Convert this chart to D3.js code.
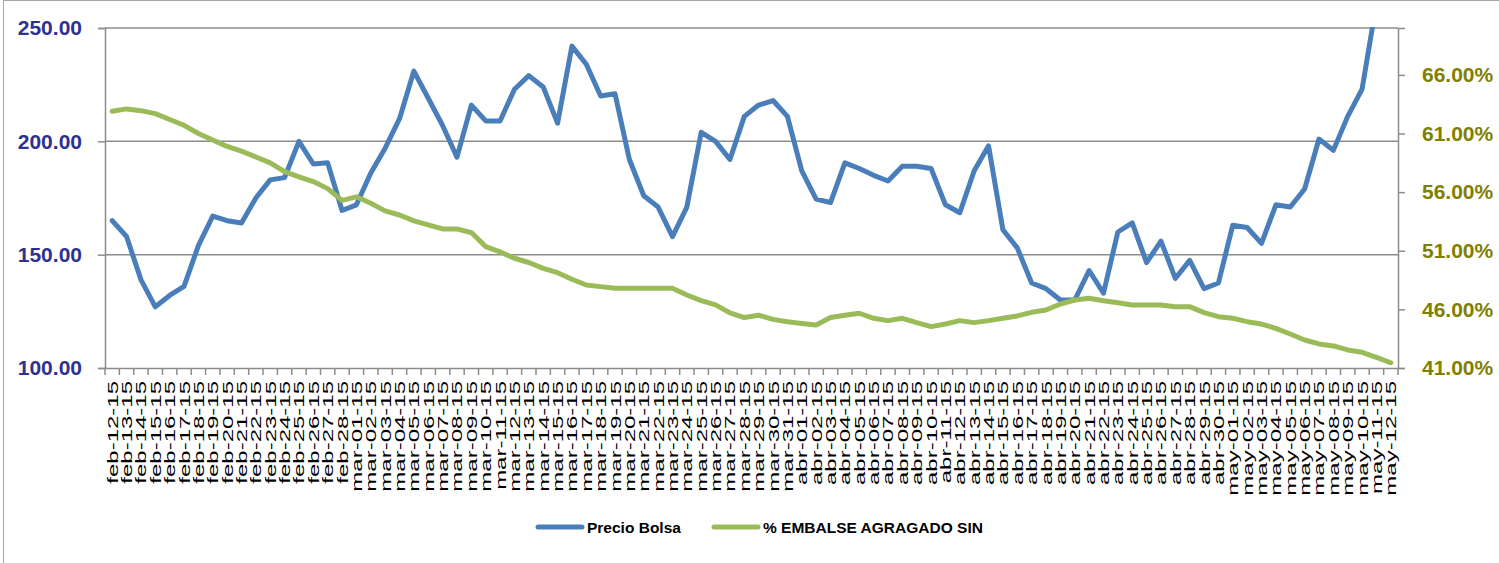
<!DOCTYPE html>
<html>
<head>
<meta charset="utf-8">
<script src="https://cdn.jsdelivr.net/npm/d3@7"></script>
<style>
  body { margin: 0; background: #fff; }
  svg { display: block; font-family: 'Liberation Sans', Arial, sans-serif; }
</style>
</head>
<body>
<svg id="chart" width="1499" height="563"></svg>
<script>
'use strict';

const dates = [
  'feb-12-15', 'feb-13-15', 'feb-14-15', 'feb-15-15', 'feb-16-15', 'feb-17-15',
  'feb-18-15', 'feb-19-15', 'feb-20-15', 'feb-21-15', 'feb-22-15', 'feb-23-15',
  'feb-24-15', 'feb-25-15', 'feb-26-15', 'feb-27-15', 'feb-28-15',
  'mar-01-15', 'mar-02-15', 'mar-03-15', 'mar-04-15', 'mar-05-15', 'mar-06-15',
  'mar-07-15', 'mar-08-15', 'mar-09-15', 'mar-10-15', 'mar-11-15', 'mar-12-15',
  'mar-13-15', 'mar-14-15', 'mar-15-15', 'mar-16-15', 'mar-17-15', 'mar-18-15',
  'mar-19-15', 'mar-20-15', 'mar-21-15', 'mar-22-15', 'mar-23-15', 'mar-24-15',
  'mar-25-15', 'mar-26-15', 'mar-27-15', 'mar-28-15', 'mar-29-15', 'mar-30-15',
  'mar-31-15',
  'abr-01-15', 'abr-02-15', 'abr-03-15', 'abr-04-15', 'abr-05-15', 'abr-06-15',
  'abr-07-15', 'abr-08-15', 'abr-09-15', 'abr-10-15', 'abr-11-15', 'abr-12-15',
  'abr-13-15', 'abr-14-15', 'abr-15-15', 'abr-16-15', 'abr-17-15', 'abr-18-15',
  'abr-19-15', 'abr-20-15', 'abr-21-15', 'abr-22-15', 'abr-23-15', 'abr-24-15',
  'abr-25-15', 'abr-26-15', 'abr-27-15', 'abr-28-15', 'abr-29-15', 'abr-30-15',
  'may-01-15', 'may-02-15', 'may-03-15', 'may-04-15', 'may-05-15', 'may-06-15',
  'may-07-15', 'may-08-15', 'may-09-15', 'may-10-15', 'may-11-15', 'may-12-15',
];

// Precio Bolsa (left axis)
const precio = [
  165, 158, 139, 127, 132, 136, 154, 167, 165, 164, 175, 183, 184, 200, 190, 190.5, 169.5,
  172, 186, 197, 210, 231, 219, 207, 193, 216, 209, 209, 223, 229, 224, 208, 242,
  234, 220, 221, 192, 176, 171, 158, 171, 204, 200, 192, 211, 216, 218, 211,
  187, 174.5, 173, 190.5, 188, 185, 182.5, 189, 189, 188, 172, 168.5, 187, 198,
  161, 153, 137.5, 135, 130, 130, 143, 133, 160, 164, 146.5, 156, 139.5, 147.5,
  135, 137.5,
  163, 162, 155, 172, 171, 179, 201, 196, 211, 223, 261, null,
];

// % EMBALSE AGRAGADO SIN (right axis)
const embalse = [
  62.9, 63.1, 62.95, 62.7, 62.2, 61.7, 61.0, 60.45, 59.9, 59.5, 59.0, 58.5, 57.75, 57.3,
  56.9, 56.3, 55.3,
  55.6, 55.05, 54.4, 54.05, 53.55, 53.2, 52.86, 52.86, 52.55, 51.35, 50.9, 50.36, 50.0,
  49.5, 49.13, 48.57, 48.08, 47.94, 47.8, 47.8, 47.8, 47.8, 47.8, 47.23, 46.75, 46.38,
  45.7, 45.3, 45.5, 45.15,
  44.95, 44.8, 44.67, 45.3, 45.5, 45.67, 45.24, 45.04, 45.24, 44.87, 44.53, 44.75, 45.04,
  44.87, 45.04, 45.24, 45.44, 45.75, 45.95, 46.46, 46.8, 46.95, 46.74, 46.57, 46.38,
  46.38, 46.38, 46.23, 46.23, 45.72, 45.38,
  45.24, 44.95, 44.75, 44.38, 43.9, 43.39, 43.05, 42.88, 42.54, 42.34, 41.91, 41.45,
];

const leftTicks = [100, 150, 200, 250];
const rightTicks = [41, 46, 51, 56, 61, 66];
const seriesNames = ['Precio Bolsa', '% EMBALSE AGRAGADO SIN'];

const colors = { blue: '#4a7ebb', green: '#9bbb59', grid: '#8c8c8c' };

const plot = { left: 105, right: 1398, top: 28, bottom: 368 };

const svg = d3.select('#chart');

// outer frame of the chart object
svg.append('path')
  .attr('d', 'M3.5,563 V0.5 H1499')
  .attr('fill', 'none')
  .attr('stroke', '#a6a6a6')
  .attr('stroke-width', 1);

const x = d3.scaleBand()
  .domain(dates)
  .range([plot.left, plot.right])
  .paddingInner(0)
  .paddingOuter(0);

const yLeft = d3.scaleLinear().domain([100, 250]).range([plot.bottom, plot.top]);
const yRight = d3.scaleLinear().domain([41, 70]).range([plot.bottom, plot.top]);

const cx = d => x(d) + x.bandwidth() / 2;

// horizontal gridlines
svg.append('g')
  .selectAll('line')
  .data(leftTicks.slice(1))
  .enter()
  .append('line')
  .attr('x1', plot.left)
  .attr('x2', plot.right)
  .attr('y1', d => yLeft(d))
  .attr('y2', d => yLeft(d))
  .attr('stroke', colors.grid)
  .attr('stroke-width', 1.5);

// left axis
const leftAxis = svg.append('g')
  .attr('transform', `translate(${plot.left},0)`)
  .call(d3.axisLeft(yLeft).tickValues(leftTicks).tickSize(7).tickPadding(16).tickFormat(d3.format('.2f')));

leftAxis.selectAll('text')
  .attr('fill', '#2e3192')
  .style('font-size', '21px')
  .style('font-weight', 'bold');

// right axis
const rightAxis = svg.append('g')
  .attr('transform', `translate(${plot.right},0)`)
  .call(d3.axisRight(yRight).tickValues(rightTicks).tickSize(7).tickPadding(17).tickFormat(d => d3.format('.2f')(d) + '%'));

rightAxis.selectAll('text')
  .attr('fill', '#808000')
  .style('font-size', '21px')
  .style('font-weight', 'bold');

// bottom axis: ticks between categories
const bottom = svg.append('g')
  .attr('transform', `translate(0,${plot.bottom})`)
  .call(d3.axisBottom(x).tickSize(0).tickFormat(''));

bottom.append('g')
  .selectAll('line')
  .data(d3.range(dates.length + 1))
  .enter()
  .append('line')
  .attr('x1', i => plot.left + i * x.step())
  .attr('x2', i => plot.left + i * x.step())
  .attr('y1', 0)
  .attr('y2', 7);

[leftAxis, rightAxis, bottom].forEach(g => {
  g.select('.domain').attr('stroke', colors.grid).attr('stroke-width', 1.5);
  g.selectAll('line').attr('stroke', colors.grid).attr('stroke-width', 1.5);
});

// category labels, stretched along the text like the original
svg.append('g')
  .selectAll('text')
  .data(dates)
  .enter()
  .append('text')
  .attr('transform', d => `translate(${cx(d) + 5.5},381) rotate(-90) scale(1.6,1)`)
  .attr('text-anchor', 'end')
  .style('font-size', '15px')
  .attr('fill', '#000')
  .text(d => d);

// lines
svg.append('clipPath')
  .attr('id', 'plot-clip')
  .append('rect')
  .attr('x', plot.left)
  .attr('y', plot.top - 1)
  .attr('width', plot.right - plot.left)
  .attr('height', plot.bottom - plot.top + 2);

const lineLeft = d3.line()
  .defined(d => d[1] != null)
  .x(d => cx(d[0]))
  .y(d => yLeft(d[1]));

const lineRight = d3.line()
  .defined(d => d[1] != null)
  .x(d => cx(d[0]))
  .y(d => yRight(d[1]));

const lines = svg.append('g').attr('clip-path', 'url(#plot-clip)');

lines.append('path')
  .datum(d3.zip(dates, precio))
  .attr('d', lineLeft)
  .attr('fill', 'none')
  .attr('stroke', colors.blue)
  .attr('stroke-width', 5)
  .attr('stroke-linejoin', 'round')
  .attr('stroke-linecap', 'round');

lines.append('path')
  .datum(d3.zip(dates, embalse))
  .attr('d', lineRight)
  .attr('fill', 'none')
  .attr('stroke', colors.green)
  .attr('stroke-width', 5)
  .attr('stroke-linejoin', 'round')
  .attr('stroke-linecap', 'round');

// legend
const legend = svg.append('g');
const legendItems = [
  { name: seriesNames[0], color: colors.blue, x: 536 },
  { name: seriesNames[1], color: colors.green, x: 712 },
];

legendItems.forEach(item => {
  legend.append('line')
    .attr('x1', item.x + 2)
    .attr('x2', item.x + 46)
    .attr('y1', 527)
    .attr('y2', 527)
    .attr('stroke', item.color)
    .attr('stroke-width', 5)
    .attr('stroke-linecap', 'round');

  legend.append('text')
    .attr('x', item.x + 51)
    .attr('y', 533)
    .style('font-size', '15.5px')
    .style('font-weight', 'bold')
    .attr('fill', '#000')
    .text(item.name);
});
</script>
</body>
</html>
